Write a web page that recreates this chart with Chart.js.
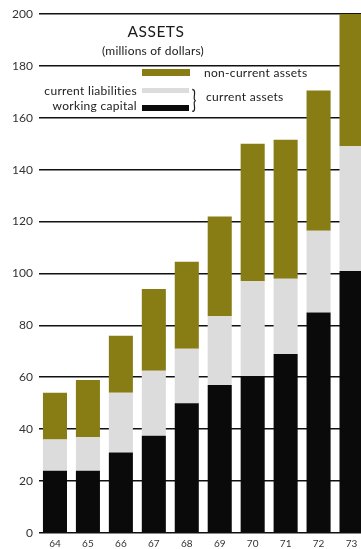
<!DOCTYPE html>
<html>
<head>
<meta charset="utf-8">
<script src="https://cdn.jsdelivr.net/npm/chart.js@4/dist/chart.umd.min.js"></script>
<style>
  html, body { margin: 0; padding: 0; background: #fff; overflow: hidden; }
  #wrap { width: 361px; height: 549px; overflow: hidden; position: relative; }
  canvas { display: block; }
</style>
</head>
<body>
<div id="wrap"><canvas id="chart" width="368" height="549"></canvas></div>
<script>
// Fiscal years (19xx)
const years = ['64', '65', '66', '67', '68', '69', '70', '71', '72', '73'];

// Assets, millions of dollars
const workingCapital     = [24, 24, 31, 37.5, 50, 57, 60.5, 69, 85, 101];
const currentLiabilities = [12, 13, 23, 25, 21, 26.5, 36.5, 29, 31.5, 48];
const nonCurrentAssets   = [18, 22, 22, 31.5, 33.5, 38.5, 53, 53.5, 54, 51];

const yMax = 200;
const yStep = 20;

const OLIVE = '#887c14';
const GREY  = '#dcdcdc';
const BLACK = '#0a0a0a';
const FONT  = 'Lato, "Open Sans", sans-serif';

function spacing(ctx, v) {
  if ('letterSpacing' in ctx) ctx.letterSpacing = v;
}

// Title and key, drawn on top of the plot
const keyPlugin = {
  id: 'assetsKey',
  afterDraw(chart) {
    const ctx = chart.ctx;
    ctx.save();
    ctx.fillStyle = '#1a1a1a';
    ctx.textBaseline = 'alphabetic';

    ctx.textAlign = 'center';
    ctx.font = '15.5px ' + FONT;
    spacing(ctx, '0.5px');
    ctx.fillText('ASSETS', 156, 37);
    ctx.font = '12px ' + FONT;
    spacing(ctx, '0.2px');
    ctx.fillText('(millions of dollars)', 153, 55);

    // swatches
    ctx.fillStyle = OLIVE;
    ctx.fillRect(142, 69, 48, 7);
    ctx.fillStyle = GREY;
    ctx.fillRect(142, 88, 47, 5);
    ctx.fillStyle = BLACK;
    ctx.fillRect(142, 105, 47, 6);

    ctx.fillStyle = '#1a1a1a';
    ctx.font = '12px ' + FONT;
    spacing(ctx, '0.3px');
    ctx.textAlign = 'left';
    ctx.fillText('non-current assets', 204, 77);
    ctx.fillText('current assets', 206, 101);
    ctx.textAlign = 'right';
    ctx.fillText('current liabilities', 137, 94.5);
    ctx.fillText('working capital', 137, 109.5);

    // tall thin brace grouping the two current-asset rows
    spacing(ctx, '0px');
    ctx.textAlign = 'center';
    ctx.font = '17px ' + FONT;
    ctx.translate(194, 108);
    ctx.scale(0.9, 1.45);
    ctx.fillText('}', 0, 0);
    ctx.restore();
  }
};

new Chart(document.getElementById('chart'), {
  type: 'bar',
  data: {
    labels: years,
    datasets: [
      { label: 'working capital', data: workingCapital, backgroundColor: BLACK },
      { label: 'current liabilities', data: currentLiabilities, backgroundColor: GREY },
      { label: 'non-current assets', data: nonCurrentAssets, backgroundColor: OLIVE }
    ]
  },
  options: {
    responsive: false,
    animation: false,
    layout: { padding: { top: 14, left: 0, right: 0, bottom: 0 } },
    datasets: {
      bar: { barPercentage: 0.73, categoryPercentage: 1, borderWidth: 0 }
    },
    plugins: {
      legend: { display: false },
      title: { display: false },
      tooltip: { enabled: false }
    },
    scales: {
      x: {
        stacked: true,
        grid: { display: false, drawTicks: false },
        border: { display: false },
        ticks: { color: '#333', font: { family: FONT, size: 10 }, padding: 4.5 },
        afterFit(scale) { scale.height = 16; }
      },
      y: {
        stacked: true,
        min: 0,
        max: yMax,
        z: 1,
        grid: { color: '#111', lineWidth: 1.6, drawTicks: false },
        border: { display: false },
        ticks: { stepSize: yStep, color: '#333', font: { family: FONT, size: 12 }, padding: 5.5 },
        afterFit(scale) { scale.width = 38.5; }
      }
    }
  },
  plugins: [keyPlugin]
});
</script>
</body>
</html>
